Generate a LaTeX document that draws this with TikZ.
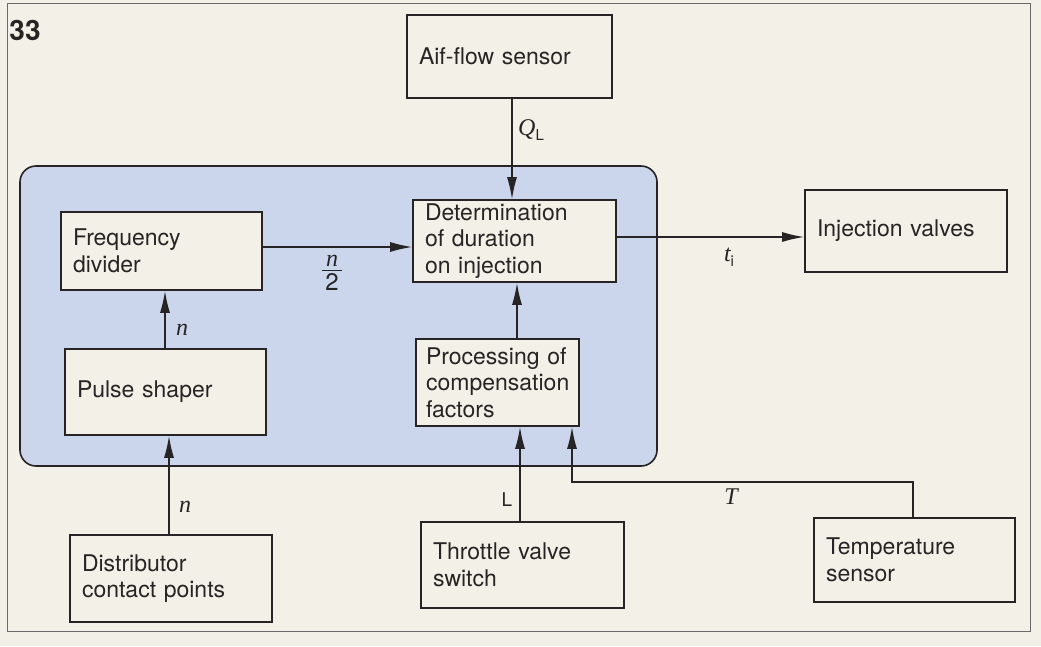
\documentclass[tikz,border=0pt]{standalone}
\usepackage{fontspec}
\setmainfont{TeX Gyre Heros}
\newfontfamily\ser{Liberation Serif}
\usetikzlibrary{arrows.meta,calc}
\definecolor{paper}{RGB}{243,240,231}
\definecolor{ecublue}{RGB}{203,214,236}
\definecolor{ink}{RGB}{38,36,36}
\definecolor{framegray}{RGB}{105,105,105}
\begin{document}
\begin{tikzpicture}[x=1pt,y=-1pt,
  blk/.style={draw=ink, line width=1.6pt, fill=paper, inner xsep=12pt, inner ysep=0pt,
              align=left, font=\fontsize{23}{26.5}\selectfont, text=ink, anchor=center},
  arr/.style={draw=ink, line width=1.5pt, -{Latex[length=22pt,width=10pt]}},
  lbl/.style={font=\fontsize{24}{26}\selectfont, text=ink, inner sep=0pt}
]
\fill[paper] (0,0) rectangle (1041,646);
\useasboundingbox (0,0) rectangle (1041,646);
% page frame
\draw[framegray, line width=1pt] (7,3) -- (1030,3) -- (1030,631) -- (7,631) -- cycle;

\node[lbl, font=\fontsize{28}{30}\selectfont\bfseries] (num) at (25,30) {33};

% control unit
\node[draw=ink, line width=1.6pt, fill=ecublue, rounded corners=16pt,
      minimum width=637pt, minimum height=300pt, inner sep=0pt] (ecu) at (338.5,316) {};

% blocks
\node[blk, text width=181pt, minimum height=83pt] (air)   at (509.5,56.5) {Aif-flow sensor};
\node[blk, text width=179pt, minimum height=82pt] (det)   at (514.5,241)  {Determination\\of duration\\on injection};
\node[blk, text width=177pt, minimum height=78pt] (freq)  at (161.5,251)  {Frequency\\divider};
\node[blk, text width=177pt, minimum height=86pt] (pulse) at (165.5,392)  {Pulse shaper};
\node[blk, inner xsep=10pt, text width=143pt, minimum height=87pt] (proc) at (497.5,382.5) {Processing of\\compensation\\factors};
\node[blk, text width=178pt, minimum height=82pt] (inj)   at (906,231)    {Injection valves};
\node[blk, text width=178pt, minimum height=87pt] (dist)  at (171,578.5)  {Distributor\\contact points};
\node[blk, text width=179pt, minimum height=86pt] (thr)   at (522.5,565)  {Throttle valve\\switch};
\node[blk, text width=177pt, minimum height=84pt] (temp)  at (914.5,560)  {Temperature\\sensor};

% helper coordinates
\coordinate (ax) at (512,0);
\coordinate (fy) at (0,247);
\coordinate (iy) at (0,237);
\coordinate (px) at (165,0);
\coordinate (dx) at (169,0);
\coordinate (cx) at (517,0);
\coordinate (tx) at (520,0);
\coordinate (sx) at (913,0);
\coordinate (tb) at (572,482);

% connectors
\draw[arr] (air.south -| ax) -- (det.north -| ax);
\draw[arr] (freq.east |- fy) -- (det.west |- fy);
\draw[arr] (det.east |- iy) -- (inj.west |- iy);
\draw[arr] (pulse.north -| px) -- (freq.south -| px);
\draw[arr] (dist.north -| dx) -- (pulse.south -| dx);
\draw[arr] (proc.north -| cx) -- (det.south -| cx);
\draw[arr] (thr.north -| tx) -- (proc.south -| tx);
\draw[arr] (temp.north -| sx) |- (tb) -- (proc.south -| tb);

% labels
\node[lbl] (lq) at (531,130) {{\ser\itshape Q}\raisebox{-5pt}{\fontsize{15}{15}\selectfont L}};
\node[lbl] (lt) at (729,257) {{\ser\itshape t}\raisebox{-5pt}{\fontsize{15}{15}\selectfont i}};
\node[lbl, align=center] (lh) at (332,273) {\setlength{\arrayrulewidth}{1.2pt}\begin{tabular}{@{}c@{}}{\ser\itshape\,n\,}\\[-4pt]\hline\noalign{\vskip1pt}2\end{tabular}};
\node[lbl] (ln1) at (182,330) {\ser\itshape n};
\node[lbl] (ln2) at (185,507) {\ser\itshape n};
\node[lbl, font=\fontsize{19}{20}\selectfont] (ll) at (507,500) {L};
\node[lbl] (lT) at (731,497) {\ser\itshape T};
\end{tikzpicture}
\end{document}
